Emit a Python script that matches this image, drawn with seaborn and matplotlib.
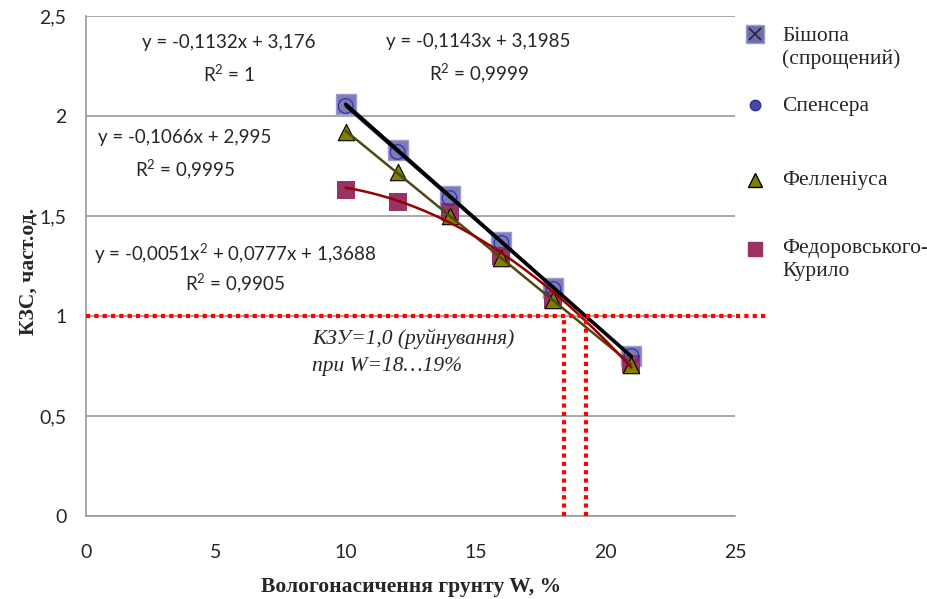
import numpy as np
import pandas as pd
import matplotlib.pyplot as plt
import seaborn as sns
from matplotlib.lines import Line2D

# вологонасичення, %
w = [10, 12, 14, 16, 18, 21]
# КЗС за методами
bishop = [2.06, 1.83, 1.60, 1.37, 1.14, 0.80]
spencer = [2.05, 1.82, 1.59, 1.365, 1.135, 0.80]
fellenius = [1.92, 1.72, 1.50, 1.29, 1.08, 0.755]
fedorov = [1.63, 1.57, 1.52, 1.30, 1.08, 0.76]

x_ticks = [0, 5, 10, 15, 20, 25]
y_ticks = [0, 0.5, 1, 1.5, 2, 2.5]
w_crit = [18.4, 19.25]

sns.set_style("white")
plt.rcParams['font.family'] = ['Lato', 'DejaVu Sans']
plt.rcParams['mathtext.fontset'] = 'custom'
plt.rcParams['mathtext.rm'] = 'Lato'

fig = plt.figure(figsize=(9.27, 5.99), dpi=100)
ax = fig.add_axes([0.0928, 0.1386, 0.7003, 0.8347])

# лінії тренду
sns.regplot(x=w, y=spencer, order=1, ci=None, scatter=False, truncate=True,
            ax=ax, line_kws=dict(color='#1a1a40', lw=1.6, zorder=3))
sns.regplot(x=w, y=bishop, order=1, ci=None, scatter=False, truncate=True,
            ax=ax, line_kws=dict(color='black', lw=2.6, zorder=3))
sns.regplot(x=w, y=fellenius, order=1, ci=None, scatter=False, truncate=True,
            ax=ax, line_kws=dict(color='#4a4a10', lw=1.8, zorder=3))
sns.regplot(x=w, y=fedorov, order=2, ci=None, scatter=False, truncate=True,
            ax=ax, line_kws=dict(color='#990000', lw=1.8, zorder=3))

# точки
sns.scatterplot(x=w, y=fedorov, marker='s', s=150, color='#993366', edgecolor='#993366',
                linewidth=0, ax=ax, zorder=2)
sns.scatterplot(x=w, y=bishop, marker='s', s=190, color='#7b7bb8', edgecolor='#9c9cd0',
                linewidth=1, ax=ax, zorder=1)
sns.scatterplot(x=w, y=spencer, marker='o', s=110, facecolor='none', edgecolor='#2a2ab0',
                linewidth=0.8, ax=ax, zorder=2)
sns.scatterplot(x=w, y=fellenius, marker='^', s=140, color='#808000', edgecolor='black',
                linewidth=0.8, ax=ax, zorder=2)

# КЗУ = 1
dot = dict(color='#ff0000', lw=3, linestyle=(0, (1, 1)), dash_capstyle='butt', zorder=4)
ax.plot([0, 26.2], [1, 1], clip_on=False, **dot)
for xc in w_crit:
    ax.plot([xc, xc], [0, 1], **dot)

ax.set_xlim(0, 25)
ax.set_ylim(0, 2.5)
ax.set_xticks(x_ticks)
ax.set_yticks(y_ticks)
ax.set_xticklabels([str(t) for t in x_ticks])
ax.set_yticklabels([str(t).replace('.', ',') for t in y_ticks])
ax.yaxis.grid(True, color='#999999', lw=1.2)
ax.set_axisbelow(True)
for s in ['top', 'right']:
    ax.spines[s].set_visible(False)
for s in ['left', 'bottom']:
    ax.spines[s].set_color('#999999')
    ax.spines[s].set_linewidth(1.2)
ax.tick_params(axis='x', direction='in', length=5, color='#999999', labelsize=14, pad=20)
ax.tick_params(axis='y', length=0, labelsize=14, pad=14)

ax.set_xlabel('Вологонасичення грунту W, %', family='Liberation Serif', fontweight='bold',
              fontsize=15.5, labelpad=12)
ax.set_ylabel('КЗС, част.од.', family='Liberation Serif', fontweight='bold', fontsize=15.5)
ax.yaxis.set_label_coords(-0.073, 0.49)

eq = dict(fontsize=13.5, ha='center', va='center')
ax.text(5.51, 2.365, 'y = -0,1132x + 3,176', **eq)
ax.text(5.51, 2.21, 'R$^{2}$ = 1', **eq)
ax.text(15.12, 2.37, 'y = -0,1143x + 3,1985', **eq)
ax.text(15.12, 2.21, 'R$^{2}$ = 0,9999', **eq)
ax.text(3.81, 1.89, 'y = -0,1066x + 2,995', **eq)
ax.text(3.81, 1.73, 'R$^{2}$ = 0,9995', **eq)
ax.text(5.74, 1.31, 'y = -0,0051x$^{2}$ + 0,0777x + 1,3688', **eq)
ax.text(5.74, 1.16, 'R$^{2}$ = 0,9905', **eq)

kzu = dict(family='Liberation Serif', style='italic', fontsize=15.5, ha='left', va='center')
ax.text(8.7, 0.885, 'КЗУ=1,0 (руйнування)', **kzu)
ax.text(8.7, 0.745, 'при W=18…19%', **kzu)

# легенда
leg_names = ['Бішопа\n(спрощений)', 'Спенсера', 'Фелленіуса', 'Федоровського-\nКурило']
leg_text_y = [34, 104, 178, 246]
leg_mark_y = [34, 105, 180, 249]
leg_handles = [
    [dict(marker='s', ms=12.5, color='#6f6fa8', mec='#9c9cd0'),
     dict(marker='x', ms=9, color='#222244', mew=1.2)],
    [dict(marker='o', ms=7.5, color='#4a4aa0', mec='#2a2ab0')],
    [dict(marker='^', ms=9.5, color='#808000', mec='black')],
    [dict(marker='s', ms=9.5, color='#993366', mec='#993366')],
]
H = 599.0
for name, ty, my, hs in zip(leg_names, leg_text_y, leg_mark_y, leg_handles):
    for kw in hs:
        fig.add_artist(Line2D([755 / 927], [1 - my / H], transform=fig.transFigure, ls='', **kw))
    fig.text(782 / 927, 1 - ty / H + 7 / H, name, family='Liberation Serif', fontsize=15.5,
             ha='left', va='top', linespacing=1.25)

fig.savefig('out.png', dpi=100)
